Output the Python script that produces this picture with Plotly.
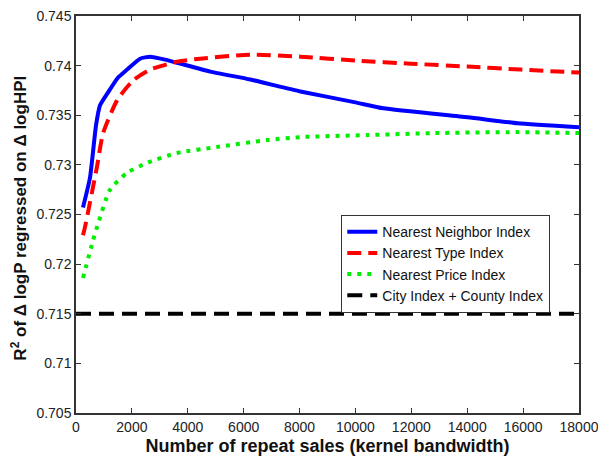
import plotly.graph_objects as go

# Data
nn_x = [250, 500, 717, 860, 1147, 1505, 1828, 2294, 2652, 3190, 3728, 4803, 6237, 8029, 10000, 11000, 14014, 15806, 18000]
nn_y = [0.7257, 0.7287, 0.7340, 0.7360, 0.7373, 0.7388, 0.7396, 0.7407, 0.7409, 0.7406, 0.7402, 0.7394, 0.7386, 0.7374, 0.7363, 0.7357, 0.7348, 0.7342, 0.7338]

nt_x = [250, 320, 750, 970, 1470, 2040, 2650, 3620, 4440, 6240, 8030, 10070, 11970, 14010, 15910, 18000]
nt_y = [0.7229, 0.7237, 0.7298, 0.7332, 0.7365, 0.7385, 0.7396, 0.7404, 0.7407, 0.7411, 0.7409, 0.7405, 0.7402, 0.7399, 0.7396, 0.7393]

np_x = [250, 610, 750, 1220, 1830, 2540, 3620, 5050, 6845, 8030, 10430, 12800, 15800, 18000]
np_y = [0.7186, 0.7224, 0.7237, 0.7275, 0.7292, 0.7302, 0.7312, 0.7318, 0.7325, 0.7328, 0.7330, 0.7332, 0.7333, 0.7332]

city_x = [0, 18000]
city_y = [0.715, 0.715]

x_ticks = [0, 2000, 4000, 6000, 8000, 10000, 12000, 14000, 16000, 18000]
y_ticks = [0.705, 0.71, 0.715, 0.72, 0.725, 0.73, 0.735, 0.74, 0.745]
y_tick_text = ["0.705", "0.71", "0.715", "0.72", "0.725", "0.73", "0.735", "0.74", "0.745"]

fig = go.Figure()
fig.add_trace(go.Scatter(x=nn_x, y=nn_y, mode="lines", name="Nearest Neighbor Index",
                         line=dict(color="#0000ff", width=4, shape="spline", smoothing=0.5)))
fig.add_trace(go.Scatter(x=nt_x, y=nt_y, mode="lines", name="Nearest Type Index",
                         line=dict(color="#ff0000", width=4, dash="14px,7px", shape="spline", smoothing=0.6)))
fig.add_trace(go.Scatter(x=np_x, y=np_y, mode="lines", name="Nearest Price Index",
                         line=dict(color="#00ee00", width=4, dash="4px,6px", shape="spline", smoothing=0.6)))
fig.add_trace(go.Scatter(x=city_x, y=city_y, mode="lines", name="City Index + County Index",
                         line=dict(color="#000000", width=4, dash="15px,8px")))

axis_common = dict(showgrid=False, zeroline=False, showline=True, linecolor="#333333",
                   linewidth=1.5, mirror="ticks", ticks="inside", ticklen=5,
                   tickcolor="#333333", automargin=False,
                   tickfont=dict(size=14, color="#222222",
                                 family="Liberation Sans Narrow, Liberation Sans, Arial"))

fig.update_xaxes(range=[0, 18000], tickvals=x_ticks, ticktext=[str(v) for v in x_ticks],
                 ticklabeloverflow="allow",
                 title=dict(text="<b>Number of repeat sales (kernel bandwidth)</b>",
                            font=dict(size=18, color="#111111", family="Liberation Sans, Arial"),
                            standoff=6),
                 **axis_common)
fig.update_yaxes(range=[0.705, 0.745], tickvals=y_ticks, ticktext=y_tick_text,
                 ticklabeloverflow="allow",
                 **axis_common)

fig.add_annotation(text="<b>R<sup>2</sup> of Δ logP regressed on Δ logHPI</b>",
                   xref="paper", yref="paper", x=-0.113, y=0.49,
                   xanchor="center", yanchor="middle", textangle=-90, showarrow=False,
                   font=dict(size=17, color="#111111", family="Liberation Sans, Arial"))

fig.update_layout(
    width=598, height=458,
    margin=dict(l=76, r=19, t=16, b=45),
    paper_bgcolor="white", plot_bgcolor="white",
    showlegend=True,
    legend=dict(x=0.527, y=0.499, xanchor="left", yanchor="top",
                bgcolor="white", bordercolor="#333333", borderwidth=1.2,
                font=dict(size=14, color="#111111", family="Liberation Sans, Arial"),
                tracegroupgap=0, itemwidth=30),
)

fig.write_html("out.html", config={"displayModeBar": False},
               post_script="document.body.style.margin='0px';document.body.style.overflow='hidden';")
